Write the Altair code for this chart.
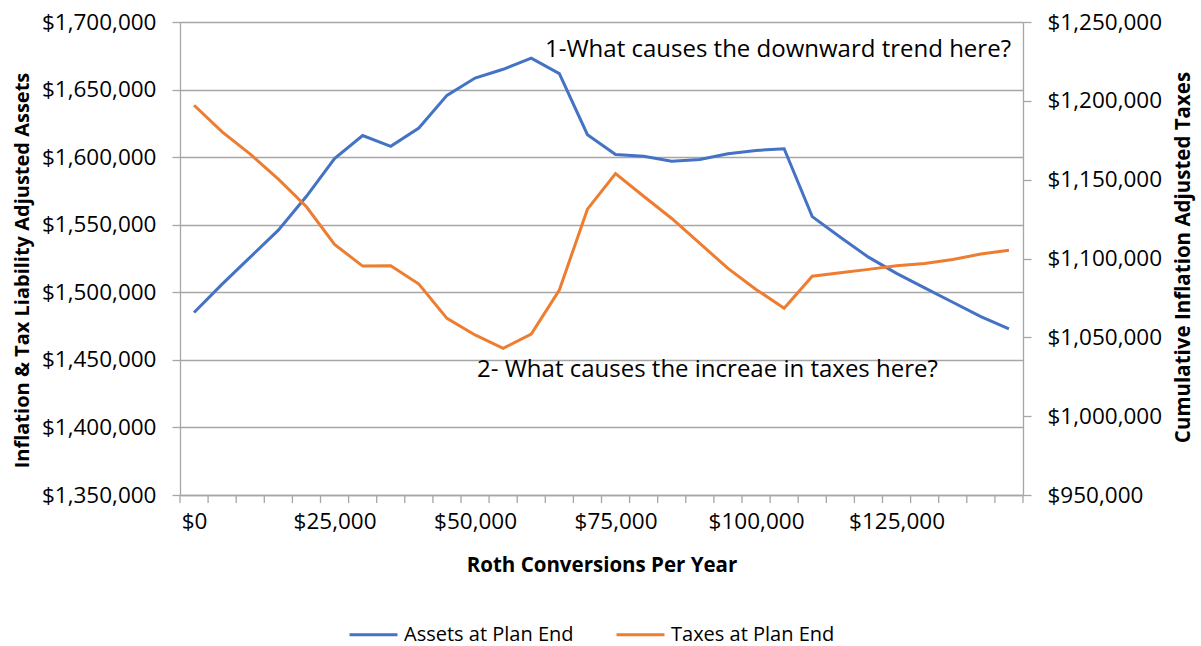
import altair as alt
import pandas as pd

conversions = [i * 5000 for i in range(30)]
assets = [1485000, 1506000, 1526000, 1546000, 1571000, 1599000, 1616000, 1608000,
          1621500, 1645700, 1658500, 1665000, 1673300, 1661800, 1616600, 1602000,
          1600700, 1597000, 1598300, 1602500, 1605000, 1606200, 1556000, 1540700,
          1526000, 1514000, 1503300, 1492600, 1482000, 1472900]
taxes = [1197200, 1180300, 1166200, 1150300, 1132800, 1108900, 1095200, 1095400,
         1083800, 1062000, 1051500, 1043000, 1052100, 1080000, 1131300, 1153900,
         1139500, 1125400, 1109600, 1093700, 1080400, 1068400, 1088800, 1091000,
         1093100, 1095400, 1096900, 1099400, 1102800, 1105300]
boundaries = [c - 2500 for c in conversions] + [conversions[-1] + 2500]
x_labels = [0, 25000, 50000, 75000, 100000, 125000]
left_ticks = list(range(1350000, 1700001, 50000))
right_ticks = list(range(950000, 1250001, 50000))
series_names = ["Assets at Plan End", "Taxes at Plan End"]
series_colors = ["#4472C4", "#ED7D31"]
notes = ["1-What causes the downward trend here?", "2- What causes the increae in taxes here?"]

df = pd.DataFrame({"conv": conversions, "assets": assets, "taxes": taxes,
                   "s1": [series_names[0]] * 30, "s2": [series_names[1]] * 30})
bdf = pd.DataFrame({"b": boundaries})

FONT = "Open Sans"
GRAY = "#A6A6A6"
TICKFS = 22.5
TITLEFS = 20.5

xscale = alt.Scale(domain=[-2500, 147500], nice=False, zero=False)
color_scale = alt.Scale(domain=series_names, range=series_colors)
legend = alt.Legend(orient="none", direction="horizontal",
                    legendX=168, legendY=587, title=None,
                    symbolType="stroke", symbolSize=2300,
                    symbolStrokeWidth=3, labelFont=FONT,
                    labelFontSize=20, labelColor="#000", labelLimit=400,
                    labelOffset=5, columnPadding=36)

x_enc = alt.X("conv:Q", scale=xscale,
              axis=alt.Axis(values=x_labels, format="$,d", ticks=False, grid=False,
                            domain=True, domainColor=GRAY, domainWidth=1.3,
                            labelFont=FONT, labelFontSize=TICKFS, labelColor="#000",
                            labelPadding=15, labelFlush=False,
                            title="Roth Conversions Per Year", titleFont=FONT,
                            titleFontSize=TITLEFS, titleFontWeight="bold", titleColor="#000",
                            titleY=76, titleBaseline="alphabetic"))

blue = alt.Chart(df).mark_line(strokeWidth=3).encode(
    x=x_enc,
    y=alt.Y("assets:Q", scale=alt.Scale(domain=[1350000, 1700000], nice=False, zero=False),
            axis=alt.Axis(orient="left", values=left_ticks, format="$,d",
                          grid=True, gridColor=GRAY, gridWidth=1.3,
                          domain=True, domainColor=GRAY, domainWidth=1.3,
                          ticks=True, tickColor=GRAY, tickSize=8, tickWidth=1.3,
                          labelFont=FONT, labelFontSize=TICKFS, labelColor="#000", labelPadding=16,
                          title="Inflation & Tax Liability Adjusted Assets", titleFont=FONT,
                          titleFontSize=20, titleFontWeight="bold", titleColor="#000",
                          titleX=-158, titleY=248, titleAngle=-90, titleBaseline="middle",
                          titleAlign="center")),
    color=alt.Color("s1:N", scale=color_scale, legend=legend),
)

orange = alt.Chart(df).mark_line(strokeWidth=3).encode(
    x=alt.X("conv:Q", scale=xscale),
    y=alt.Y("taxes:Q", scale=alt.Scale(domain=[950000, 1250000], nice=False, zero=False),
            axis=alt.Axis(orient="right", values=right_ticks, format="$,d", grid=False,
                          domain=True, domainColor=GRAY, domainWidth=1.3,
                          ticks=True, tickColor=GRAY, tickSize=8, tickWidth=1.3,
                          labelFont=FONT, labelFontSize=TICKFS, labelColor="#000", labelPadding=16,
                          title="Cumulative Inflation Adjusted Taxes", titleFont=FONT,
                          titleFontSize=TITLEFS, titleFontWeight="bold", titleColor="#000",
                          titleX=160, titleY=235, titleAngle=-90, titleBaseline="middle",
                          titleAlign="center")),
    color=alt.Color("s2:N", scale=color_scale, legend=legend),
)

xticks = alt.Chart(bdf).mark_rule(color=GRAY, strokeWidth=1.3).encode(
    x=alt.X("b:Q", scale=xscale),
    y=alt.value(473), y2=alt.value(481),
)

note1 = alt.Chart(pd.DataFrame({"t": [notes[0]]})).mark_text(
    font=FONT, fontSize=24, align="left", baseline="alphabetic", color="#000"
).encode(text="t:N", x=alt.value(365), y=alt.value(35))

note2 = alt.Chart(pd.DataFrame({"t": [notes[1]]})).mark_text(
    font=FONT, fontSize=24, align="left", baseline="alphabetic", color="#000"
).encode(text="t:N", x=alt.value(297), y=alt.value(355))

chart = alt.layer(xticks, blue, orange, note1, note2).resolve_scale(
    y="independent"
).properties(
    width=843, height=473,
    autosize=alt.AutoSizeParams(type="none"),
    padding={"left": 180, "top": 22, "right": 178, "bottom": 151},
).configure_view(stroke=None).configure(background="white")

chart.save("out.html", embed_options={"renderer": "svg", "actions": False})
